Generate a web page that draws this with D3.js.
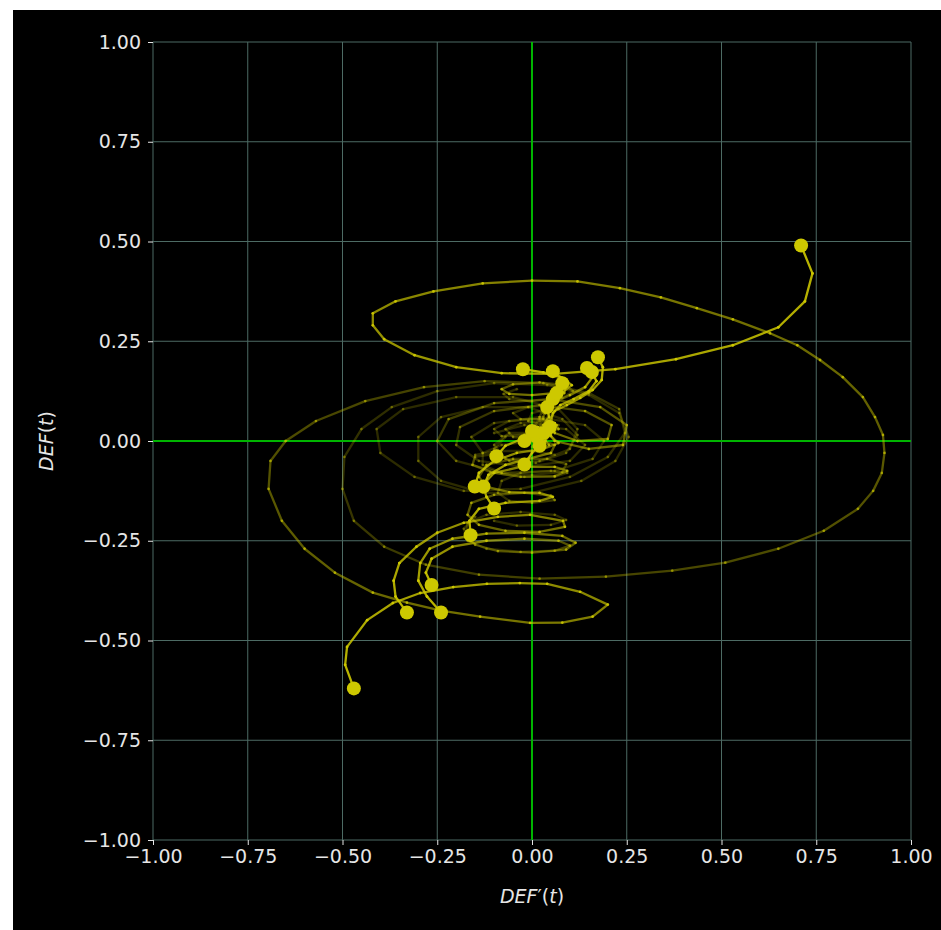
<!DOCTYPE html>
<html>
<head>
<meta charset="utf-8">
<script src="https://cdn.jsdelivr.net/npm/d3@7"></script>
<style>
  html, body { margin: 0; padding: 0; background: #ffffff; }
  svg { display: block; }
</style>
</head>
<body>
<svg id="chart" width="941" height="930"></svg>
<script>
// Tick values shared by both axes
const xTicks = [-1, -0.75, -0.5, -0.25, 0, 0.25, 0.5, 0.75, 1];
const yTicks = [-1, -0.75, -0.5, -0.25, 0, 0.25, 0.5, 0.75, 1];

// Phase trajectories [DEF'(t), DEF(t)], each listed from its marked point onward
const pathA = [[0.71,0.49],[0.74,0.42],[0.72,0.35],[0.65,0.285],[0.53,0.24],[0.38,0.205],[0.22,0.18],[0.06,0.168],[-0.08,0.17],[-0.2,0.185],[-0.31,0.215],[-0.39,0.255],[-0.42,0.29],[-0.42,0.32],[-0.36,0.35],[-0.26,0.375],[-0.13,0.395],[0.0,0.402],[0.12,0.4],[0.232,0.383],[0.34,0.36],[0.435,0.333],[0.53,0.305],[0.628,0.27],[0.7,0.24],[0.76,0.203],[0.82,0.16],[0.873,0.11],[0.905,0.06],[0.926,0.015],[0.93,-0.03],[0.923,-0.08],[0.9,-0.125],[0.86,-0.17],[0.77,-0.225],[0.65,-0.27],[0.51,-0.305],[0.37,-0.325],[0.195,-0.34],[0.02,-0.345],[-0.14,-0.335],[-0.28,-0.31],[-0.39,-0.265],[-0.47,-0.2],[-0.5,-0.12],[-0.495,-0.04],[-0.45,0.03],[-0.37,0.085],[-0.25,0.125],[-0.1,0.145],[0.04,0.14],[0.15,0.115],[0.23,0.07],[0.255,0.01],[0.22,-0.05],[0.13,-0.1],[0.0,-0.13],[-0.13,-0.13],[-0.24,-0.1],[-0.3,-0.05],[-0.3,0.01],[-0.24,0.06],[-0.13,0.085],[-0.01,0.085],[0.08,0.055],[0.12,0.015],[0.09,-0.03],[0.01,-0.055],[-0.07,-0.045],[-0.1,-0.01],[-0.06,0.02],[0.0,0.02]];
const pathB = [[-0.47,-0.62],[-0.493,-0.561],[-0.488,-0.516],[-0.435,-0.449],[-0.367,-0.406],[-0.295,-0.381],[-0.208,-0.366],[-0.119,-0.358],[-0.032,-0.356],[0.04,-0.358],[0.127,-0.378],[0.2,-0.41],[0.16,-0.44],[0.08,-0.455],[-0.005,-0.456],[-0.137,-0.44],[-0.24,-0.425],[-0.33,-0.405],[-0.42,-0.38],[-0.52,-0.33],[-0.6,-0.27],[-0.66,-0.2],[-0.695,-0.12],[-0.69,-0.05],[-0.65,0.0],[-0.57,0.05],[-0.44,0.1],[-0.285,0.135],[-0.125,0.15],[0.03,0.145],[0.15,0.12],[0.23,0.08],[0.245,0.02],[0.2,-0.04],[0.1,-0.09],[-0.03,-0.12],[-0.18,-0.125],[-0.31,-0.09],[-0.4,-0.03],[-0.41,0.03],[-0.34,0.08],[-0.2,0.11],[-0.05,0.11],[0.07,0.08],[0.12,0.03],[0.1,-0.02],[0.02,-0.05],[-0.06,-0.05],[-0.1,-0.02],[-0.07,0.01]];
const pathC = [[-0.33,-0.43],[-0.36,-0.39],[-0.365,-0.35],[-0.35,-0.306],[-0.305,-0.265],[-0.25,-0.23],[-0.18,-0.205],[-0.09,-0.19],[-0.005,-0.185],[0.082,-0.2],[0.087,-0.215],[0.02,-0.228],[-0.07,-0.225],[-0.14,-0.21],[-0.17,-0.185],[-0.16,-0.155],[-0.1,-0.135],[-0.02,-0.13],[0.05,-0.137],[0.06,-0.148],[0.0,-0.155],[-0.06,-0.15],[-0.09,-0.13],[-0.08,-0.1],[-0.03,-0.08],[0.05,-0.075],[0.093,-0.08],[0.06,-0.09],[-0.02,-0.09],[-0.1,-0.08],[-0.157,-0.06],[-0.15,-0.04],[-0.08,-0.03]];
const pathD = [[-0.24,-0.43],[-0.277,-0.39],[-0.3,-0.35],[-0.295,-0.306],[-0.27,-0.27],[-0.21,-0.245],[-0.12,-0.232],[-0.02,-0.23],[0.08,-0.238],[0.115,-0.255],[0.09,-0.272],[0.0,-0.28],[-0.09,-0.276],[-0.15,-0.26],[-0.175,-0.235],[-0.17,-0.205],[-0.12,-0.185],[-0.03,-0.178],[0.06,-0.185],[0.09,-0.198],[0.05,-0.21],[-0.04,-0.212],[-0.1,-0.2]];
const pathE = [[-0.265,-0.361],[-0.28,-0.33],[-0.265,-0.295],[-0.21,-0.265],[-0.12,-0.25],[-0.02,-0.245],[0.07,-0.25],[0.1,-0.262],[0.06,-0.275],[-0.03,-0.278],[-0.12,-0.27],[-0.17,-0.25],[-0.18,-0.22],[-0.15,-0.19]];
const pathF = [[-0.162,-0.236],[-0.165,-0.2],[-0.14,-0.17],[-0.07,-0.155],[0.02,-0.15],[0.055,-0.14],[0.02,-0.13],[-0.06,-0.128],[-0.12,-0.115],[-0.14,-0.09],[-0.12,-0.06],[-0.05,-0.045],[0.04,-0.045],[0.09,-0.058],[0.08,-0.078],[0.0,-0.085],[-0.08,-0.08],[-0.13,-0.06],[-0.13,-0.03],[-0.08,-0.01],[0.0,0.0]];
const pathG = [[-0.1,-0.169],[-0.12,-0.14],[-0.13,-0.11],[-0.1,-0.08],[-0.03,-0.065],[0.06,-0.065],[0.093,-0.075],[0.06,-0.088],[-0.03,-0.09],[-0.11,-0.078],[-0.157,-0.06],[-0.15,-0.035],[-0.09,-0.025],[0.0,-0.025],[0.06,-0.035]];
const pathH = [[-0.151,-0.114],[-0.14,-0.08],[-0.1,-0.05],[-0.04,-0.03],[0.03,-0.02],[0.07,-0.005],[0.05,0.012],[-0.02,0.016],[-0.08,0.012],[-0.1,0.03],[-0.06,0.05],[0.02,0.055],[0.07,0.04]];
const pathI = [[-0.128,-0.114],[-0.115,-0.085],[-0.07,-0.06],[-0.01,-0.045],[0.05,-0.03],[0.06,-0.01],[0.02,0.005],[-0.05,0.01],[-0.07,0.03],[-0.03,0.045],[0.04,0.05]];
const pathJ = [[-0.094,-0.038],[-0.07,-0.012],[-0.02,0.008],[0.04,0.02],[0.065,0.04],[0.03,0.055],[-0.03,0.055],[-0.05,0.07],[-0.01,0.085],[0.05,0.09]];
const pathK = [[-0.02,-0.059],[0.0,-0.03],[0.03,-0.005],[0.05,0.02],[0.03,0.04],[-0.01,0.05],[0.0,0.07],[0.04,0.08]];
const pathL = [[0.174,0.21],[0.187,0.185],[0.184,0.153],[0.16,0.128],[0.127,0.108],[0.092,0.09],[0.06,0.075],[0.045,0.05],[0.04,0.025],[0.06,0.0],[0.15,-0.02],[0.24,-0.01],[0.25,0.04],[0.18,0.085],[0.05,0.105],[-0.1,0.095],[-0.22,0.055],[-0.25,0.0],[-0.2,-0.05],[-0.08,-0.08],[0.06,-0.075],[0.16,-0.045],[0.19,0.0],[0.14,0.04],[0.02,0.06],[-0.1,0.045],[-0.16,0.01],[-0.13,-0.03]];
const pathM = [[0.158,0.173],[0.17,0.15],[0.15,0.125],[0.11,0.105],[0.075,0.09],[0.055,0.07],[0.05,0.045],[0.06,0.02],[0.12,0.0],[0.2,0.005],[0.21,0.04],[0.14,0.075],[0.02,0.09],[-0.1,0.075],[-0.19,0.035],[-0.2,-0.01],[-0.14,-0.05],[-0.02,-0.065],[0.1,-0.05],[0.14,-0.01],[0.09,0.03],[-0.02,0.04],[-0.1,0.02]];
const pathN = [[0.145,0.183],[0.16,0.16],[0.14,0.135],[0.1,0.115],[0.065,0.1],[0.045,0.08],[0.04,0.055],[0.02,0.03]];
const pathO = [[0.055,0.175],[0.075,0.16],[0.09,0.14],[0.085,0.12],[0.06,0.105],[0.04,0.09],[0.03,0.06],[0.02,0.035]];
const pathP = [[-0.024,0.18],[0.03,0.172],[0.08,0.158],[0.105,0.14],[0.08,0.122],[0.0,0.115],[-0.06,0.118],[-0.08,0.13],[-0.05,0.142],[0.02,0.147],[0.09,0.14],[0.108,0.125],[0.08,0.108],[0.0,0.1],[-0.06,0.105],[-0.075,0.118],[-0.04,0.13]];
const pathQ = [[0.08,0.145],[0.07,0.12],[0.05,0.1],[0.03,0.08],[0.02,0.06],[0.01,0.04]];
const pathR = [[0.04,0.085],[0.045,0.06],[0.03,0.04],[0.01,0.02]];
const pathS = [[0.013,0.01],[0.03,0.02],[0.04,0.01],[0.03,-0.005]];
const pathT = [[-0.02,0.0],[0.0,0.01],[0.02,0.0],[0.0,-0.015]];
const pathU = [[0.03,0.02],[0.045,0.03],[0.05,0.015],[0.035,0.005]];
const pathV = [[0.047,0.035],[0.06,0.045],[0.07,0.03],[0.05,0.02]];
const pathW = [[0.055,0.105],[0.05,0.085],[0.035,0.07],[0.02,0.05]];
const pathX = [[0.0,0.025],[0.015,0.035],[0.03,0.03],[0.02,0.015]];
const pathY = [[0.02,-0.012],[0.035,0.0],[0.045,-0.01],[0.03,-0.02]];
const pathZ = [[0.065,0.12],[0.06,0.1],[0.045,0.085],[0.03,0.07]];

const trajectories = [pathA, pathB, pathC, pathD, pathE, pathF, pathG, pathH, pathI, pathJ, pathK, pathL, pathM, pathN, pathO, pathP, pathQ, pathR, pathS, pathT, pathU, pathV, pathW, pathX, pathY, pathZ];

// Layout
const W = 941, H = 930;
const x = d3.scaleLinear().domain([-1, 1]).range([153, 911]);
const y = d3.scaleLinear().domain([-1, 1]).range([840, 42]);

const svg = d3.select("#chart");
const lineColor = "#cdc800";
const gridColor = "#4d6b64";
const textColor = "#e6e6e6";
const font = "DejaVu Sans, Liberation Sans, sans-serif";

// Dark figure background
svg.append("rect").attr("x", 13).attr("y", 10).attr("width", W - 13).attr("height", H - 10).attr("fill", "#000000");

// Grid
const grid = svg.append("g");
grid.selectAll(".gx").data(xTicks).join("line")
  .attr("x1", d => x(d)).attr("x2", d => x(d))
  .attr("y1", y(-1)).attr("y2", y(1))
  .attr("stroke", gridColor).attr("stroke-width", 1);
grid.selectAll(".gy").data(yTicks).join("line")
  .attr("y1", d => y(d)).attr("y2", d => y(d))
  .attr("x1", x(-1)).attr("x2", x(1))
  .attr("stroke", gridColor).attr("stroke-width", 1);

// Zero lines
svg.append("line").attr("x1", x(0)).attr("x2", x(0)).attr("y1", y(-1)).attr("y2", y(1))
  .attr("stroke", "#00b400").attr("stroke-width", 2);
svg.append("line").attr("y1", y(0)).attr("y2", y(0)).attr("x1", x(-1)).attr("x2", x(1))
  .attr("stroke", "#00b400").attr("stroke-width", 2);

// Axes
const fmt = d3.format(".2f");
const xAxis = svg.append("g").attr("transform", `translate(0,${y(-1)})`)
  .call(d3.axisBottom(x).tickValues(xTicks).tickFormat(fmt).tickSize(5).tickPadding(5));
const yAxis = svg.append("g").attr("transform", `translate(${x(-1)},0)`)
  .call(d3.axisLeft(y).tickValues(yTicks).tickFormat(fmt).tickSize(5).tickPadding(7));
[xAxis, yAxis].forEach(g => {
  g.select(".domain").remove();
  g.selectAll(".tick line").attr("stroke", textColor).attr("stroke-width", 1);
  g.selectAll(".tick text").attr("fill", textColor).attr("font-family", font).attr("font-size", 19);
});

// Axis titles
const xt = svg.append("text").attr("x", x(0)).attr("y", 903).attr("text-anchor", "middle")
  .attr("fill", textColor).attr("font-family", font).attr("font-size", 19);
xt.append("tspan").attr("font-style", "italic").text("DEF");
xt.append("tspan").text("′(");
xt.append("tspan").attr("font-style", "italic").text("t");
xt.append("tspan").text(")");

const yt = svg.append("text").attr("transform", `translate(53,${y(0)}) rotate(-90)`).attr("text-anchor", "middle")
  .attr("fill", textColor).attr("font-family", font).attr("font-size", 19);
yt.append("tspan").attr("font-style", "italic").text("DEF");
yt.append("tspan").text("(");
yt.append("tspan").attr("font-style", "italic").text("t");
yt.append("tspan").text(")");

// Trajectories: opacity fades along each path away from its marked point
const fade = (i, n) => Math.max(0.24, Math.pow(1 - i / Math.max(1, n), 1.3));
const plot = svg.append("g");
trajectories.forEach(path => {
  const n = path.length - 1;
  const segs = d3.pairs(path).map((p, i) => ({ a: p[0], b: p[1], op: fade(i, n) }));
  plot.append("g").selectAll("line").data(segs).join("line")
    .attr("x1", d => x(d.a[0])).attr("y1", d => y(d.a[1]))
    .attr("x2", d => x(d.b[0])).attr("y2", d => y(d.b[1]))
    .attr("stroke", lineColor).attr("stroke-width", 2.3)
    .attr("stroke-linecap", "round").attr("stroke-opacity", d => d.op * 0.9);
  plot.append("g").selectAll("circle").data(path.slice(1).map((p, i) => ({ p, op: fade(i, n) })))
    .join("circle")
    .attr("cx", d => x(d.p[0])).attr("cy", d => y(d.p[1])).attr("r", 1.4)
    .attr("fill", lineColor).attr("fill-opacity", d => d.op);
});
// Marked points drawn on top
plot.append("g").selectAll("circle").data(trajectories.map(p => p[0])).join("circle")
  .attr("cx", d => x(d[0])).attr("cy", d => y(d[1])).attr("r", 7)
  .attr("fill", lineColor);
</script>
</body>
</html>
